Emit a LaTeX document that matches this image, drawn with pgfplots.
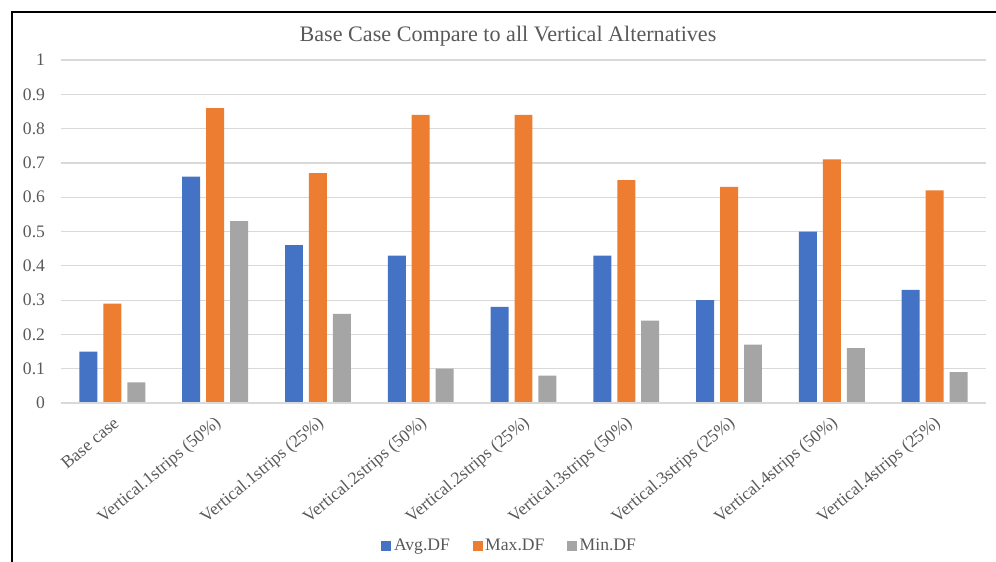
\documentclass[border=0pt]{standalone}
\usepackage{pgfplots}
\pgfplotsset{compat=1.18}
\usepackage{fontspec}
\setmainfont{Liberation Serif}

\definecolor{avgblue}{HTML}{4472C4}
\definecolor{maxorange}{HTML}{ED7D31}
\definecolor{mingray}{HTML}{A5A5A5}
\definecolor{txtgray}{HTML}{595959}
\definecolor{gridgray}{HTML}{D9D9D9}

\pgfplotstableread{
idx avg  max  min
0   0.15 0.29 0.06
1   0.66 0.86 0.53
2   0.46 0.67 0.26
3   0.43 0.84 0.10
4   0.28 0.84 0.08
5   0.43 0.65 0.24
6   0.30 0.63 0.17
7   0.50 0.71 0.16
8   0.33 0.62 0.09
}\dftable

\begin{document}
\begin{tikzpicture}
\useasboundingbox (0,0) rectangle (747pt,420.75pt);
\begin{scope}
  \clip (0,0) rectangle (747pt,420.75pt);
  \draw[line width=1.6pt] (9.3pt,-10pt) -- (9.3pt,411.6pt) -- (760pt,411.6pt);
\end{scope}
\node[font=\fontsize{16.6}{19}\selectfont, text=txtgray] at (381pt,393.8pt)
  {Base Case Compare to all Vertical Alternatives};
\begin{axis}[
  at={(45.75pt,118.5pt)}, anchor=south west,
  scale only axis,
  width=693.75pt, height=257.25pt,
  xmin=-0.5, xmax=8.5,
  ymin=0, ymax=1,
  ytick={0,0.1,...,1.0},
  xtick={0,...,8},
  xticklabels={Base case, Vertical.1strips (50\%), Vertical.1strips (25\%),
    Vertical.2strips (50\%), Vertical.2strips (25\%), Vertical.3strips (50\%),
    Vertical.3strips (25\%), Vertical.4strips (50\%), Vertical.4strips (25\%)},
  axis line style={draw=none},
  major tick length=0pt,
  ymajorgrids,
  grid style={gridgray, line width=0.9pt},
  /pgf/number format/assume math mode=true,
  tick label style={font=\fontsize{13.2}{15}\selectfont, text=txtgray},
  yticklabel style={xshift=-8.5pt},
  xticklabel style={xshift=3pt, yshift=-13.5pt, anchor=east, inner sep=0pt, rotate=40},
  ybar, bar width=0.175,
  legend columns=-1,
  legend style={at={(0.4854,-0.417)}, anchor=center, draw=none,
    font=\fontsize{13.2}{15}\selectfont, text=txtgray,
    /tikz/every even column/.append style={column sep=15pt}},
  legend image code/.code={\fill[#1] (0pt,-3.75pt) rectangle (7.5pt,3.75pt);},
  clip=false,
]
\addplot[fill=avgblue, draw=none, bar shift=-0.233] table[x=idx, y=avg] {\dftable};
\addplot[fill=maxorange, draw=none, bar shift=0] table[x=idx, y=max] {\dftable};
\addplot[fill=mingray, draw=none, bar shift=0.233] table[x=idx, y=min] {\dftable};
\draw[gridgray, line width=0.9pt] (axis cs:-0.5,0) -- (axis cs:8.5,0);
\legend{Avg.DF, Max.DF, Min.DF}
\end{axis}
\end{tikzpicture}
\end{document}
